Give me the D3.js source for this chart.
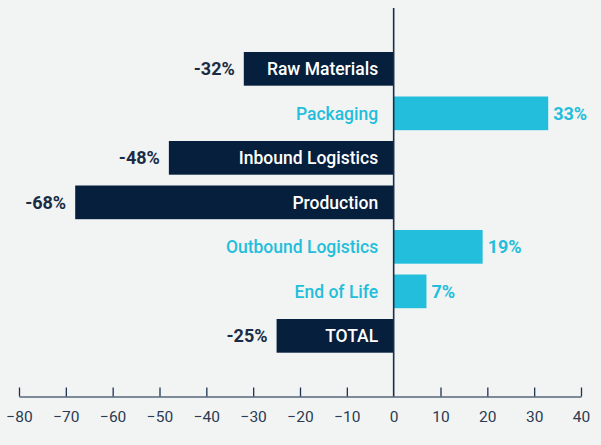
<!DOCTYPE html>
<html><head><meta charset="utf-8">
<script src="https://cdn.jsdelivr.net/npm/d3@7"></script>
<style>
html,body{margin:0;padding:0;background:#f2f4f3;}
svg{display:block;}
</style></head>
<body>
<svg id="chart" width="601" height="445"></svg>
<script>
const categories = ["Raw Materials","Packaging","Inbound Logistics","Production","Outbound Logistics","End of Life","TOTAL"];
const values = [-32, 33, -48, -68, 19, 7, -25];
const tickValues = [-80,-70,-60,-50,-40,-30,-20,-10,0,10,20,30,40];

const W = 601, H = 445;
const navy = "#061f3c", cyan = "#23bedb";
const font = "Roboto, 'Open Sans', sans-serif";
const svg = d3.select("#chart");
svg.append("rect").attr("width", W).attr("height", H).attr("fill", "#f2f4f3");

const x = d3.scaleLinear().domain([-80, 40]).range([19, 581]);
const y = d3.scaleBand().domain(categories).range([52, 352.7]).paddingInner(0.243).paddingOuter(0);
const data = categories.map((c, i) => ({c, v: values[i]}));

// axis
const axisY = 396.5;
const ax = svg.append("g").attr("transform", `translate(0,${axisY})`)
  .call(d3.axisBottom(x).tickValues(tickValues).tickSizeInner(-9).tickSizeOuter(0).tickPadding(14).tickFormat(d3.format("d")));
ax.select(".domain").attr("stroke", "#56677d").attr("stroke-width", 1.5);
ax.selectAll(".tick line").attr("stroke", "#1f3350").attr("stroke-width", 1.3);
ax.selectAll(".tick text").attr("fill", "#2b3b52").attr("font-family", font).attr("font-size", 15.5).attr("dy", "0.75em");
ax.selectAll(".tick").filter(d => d === 0).select("line").attr("opacity", 0);

// bars
svg.selectAll(".bar").data(data).enter().append("rect")
  .attr("x", d => x(Math.min(0, d.v)))
  .attr("y", d => y(d.c))
  .attr("width", d => Math.abs(x(d.v) - x(0)))
  .attr("height", y.bandwidth())
  .attr("fill", d => d.v < 0 ? navy : cyan);

// zero line
svg.append("line").attr("x1", x(0)).attr("x2", x(0)).attr("y1", 8).attr("y2", axisY)
  .attr("stroke", "#1b2d48").attr("stroke-width", 1.6);

// category labels
svg.selectAll(".cat").data(data).enter().append("text")
  .attr("x", x(0) - 15.5)
  .attr("y", d => y(d.c) + y.bandwidth() / 2)
  .attr("dy", "0.36em")
  .attr("text-anchor", "end")
  .attr("font-family", font).attr("font-weight", 500).attr("font-size", 17.5)
  .attr("fill", d => d.v < 0 ? "#ffffff" : cyan)
  .text(d => d.c);

// value labels
svg.selectAll(".val").data(data).enter().append("text")
  .attr("x", d => d.v < 0 ? x(d.v) - 9 : x(d.v) + 5)
  .attr("y", d => y(d.c) + y.bandwidth() / 2)
  .attr("dy", "0.36em")
  .attr("text-anchor", d => d.v < 0 ? "end" : "start")
  .attr("font-family", font).attr("font-weight", 700).attr("font-size", 18)
  .attr("fill", d => d.v < 0 ? "#1a2c45" : cyan)
  .text(d => d.v + "%");
</script>
</body></html>
